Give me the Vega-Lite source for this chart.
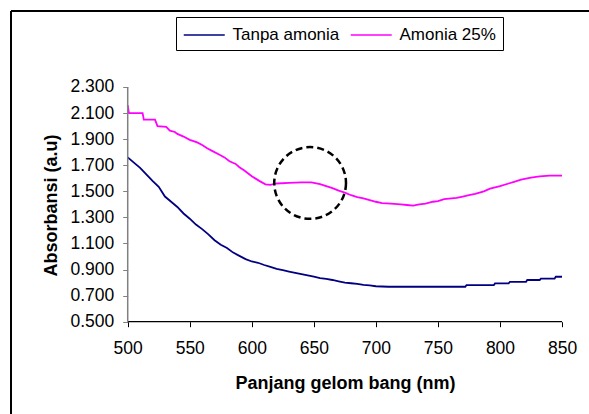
{
  "$schema": "https://vega.github.io/schema/vega-lite/v6.json",
  "width": 578,
  "height": 403,
  "autosize": {"type": "none"},
  "padding": {"left": 11, "top": 11, "right": 0, "bottom": 0},
  "background": "white",
  "config": {
    "view": {"stroke": null},
    "font": "Liberation Sans",
    "axis": {"labelFont": "Liberation Sans", "titleFont": "Liberation Sans", "labelColor": "black", "titleColor": "black", "grid": false, "domain": false}
  },
  "datasets": {
    "spectra": [
      {"wl": 500, "abs": 1.76, "series": "Tanpa amonia"},
      {"wl": 505, "abs": 1.72, "series": "Tanpa amonia"},
      {"wl": 510, "abs": 1.68, "series": "Tanpa amonia"},
      {"wl": 515, "abs": 1.63, "series": "Tanpa amonia"},
      {"wl": 520, "abs": 1.58, "series": "Tanpa amonia"},
      {"wl": 525, "abs": 1.535, "series": "Tanpa amonia"},
      {"wl": 530, "abs": 1.46, "series": "Tanpa amonia"},
      {"wl": 535, "abs": 1.42, "series": "Tanpa amonia"},
      {"wl": 540, "abs": 1.38, "series": "Tanpa amonia"},
      {"wl": 545, "abs": 1.33, "series": "Tanpa amonia"},
      {"wl": 550, "abs": 1.29, "series": "Tanpa amonia"},
      {"wl": 555, "abs": 1.245, "series": "Tanpa amonia"},
      {"wl": 560, "abs": 1.21, "series": "Tanpa amonia"},
      {"wl": 565, "abs": 1.17, "series": "Tanpa amonia"},
      {"wl": 570, "abs": 1.125, "series": "Tanpa amonia"},
      {"wl": 575, "abs": 1.09, "series": "Tanpa amonia"},
      {"wl": 580, "abs": 1.065, "series": "Tanpa amonia"},
      {"wl": 585, "abs": 1.03, "series": "Tanpa amonia"},
      {"wl": 590, "abs": 1.005, "series": "Tanpa amonia"},
      {"wl": 595, "abs": 0.98, "series": "Tanpa amonia"},
      {"wl": 600, "abs": 0.962, "series": "Tanpa amonia"},
      {"wl": 605, "abs": 0.952, "series": "Tanpa amonia"},
      {"wl": 610, "abs": 0.935, "series": "Tanpa amonia"},
      {"wl": 615, "abs": 0.92, "series": "Tanpa amonia"},
      {"wl": 620, "abs": 0.905, "series": "Tanpa amonia"},
      {"wl": 625, "abs": 0.895, "series": "Tanpa amonia"},
      {"wl": 630, "abs": 0.885, "series": "Tanpa amonia"},
      {"wl": 635, "abs": 0.875, "series": "Tanpa amonia"},
      {"wl": 640, "abs": 0.865, "series": "Tanpa amonia"},
      {"wl": 645, "abs": 0.855, "series": "Tanpa amonia"},
      {"wl": 650, "abs": 0.845, "series": "Tanpa amonia"},
      {"wl": 655, "abs": 0.835, "series": "Tanpa amonia"},
      {"wl": 660, "abs": 0.828, "series": "Tanpa amonia"},
      {"wl": 665, "abs": 0.82, "series": "Tanpa amonia"},
      {"wl": 670, "abs": 0.81, "series": "Tanpa amonia"},
      {"wl": 675, "abs": 0.8, "series": "Tanpa amonia"},
      {"wl": 680, "abs": 0.795, "series": "Tanpa amonia"},
      {"wl": 685, "abs": 0.79, "series": "Tanpa amonia"},
      {"wl": 690, "abs": 0.782, "series": "Tanpa amonia"},
      {"wl": 695, "abs": 0.778, "series": "Tanpa amonia"},
      {"wl": 700, "abs": 0.772, "series": "Tanpa amonia"},
      {"wl": 710, "abs": 0.768, "series": "Tanpa amonia"},
      {"wl": 740, "abs": 0.768, "series": "Tanpa amonia"},
      {"wl": 772, "abs": 0.768, "series": "Tanpa amonia"},
      {"wl": 773, "abs": 0.78, "series": "Tanpa amonia"},
      {"wl": 795, "abs": 0.78, "series": "Tanpa amonia"},
      {"wl": 796, "abs": 0.794, "series": "Tanpa amonia"},
      {"wl": 807, "abs": 0.794, "series": "Tanpa amonia"},
      {"wl": 808, "abs": 0.806, "series": "Tanpa amonia"},
      {"wl": 821, "abs": 0.806, "series": "Tanpa amonia"},
      {"wl": 822, "abs": 0.82, "series": "Tanpa amonia"},
      {"wl": 832, "abs": 0.82, "series": "Tanpa amonia"},
      {"wl": 833, "abs": 0.83, "series": "Tanpa amonia"},
      {"wl": 844, "abs": 0.83, "series": "Tanpa amonia"},
      {"wl": 845, "abs": 0.845, "series": "Tanpa amonia"},
      {"wl": 850, "abs": 0.845, "series": "Tanpa amonia"},
      {"wl": 500, "abs": 2.16, "series": "Amonia 25%"},
      {"wl": 501, "abs": 2.1, "series": "Amonia 25%"},
      {"wl": 512, "abs": 2.1, "series": "Amonia 25%"},
      {"wl": 513, "abs": 2.05, "series": "Amonia 25%"},
      {"wl": 522, "abs": 2.05, "series": "Amonia 25%"},
      {"wl": 524, "abs": 2.0, "series": "Amonia 25%"},
      {"wl": 531, "abs": 1.995, "series": "Amonia 25%"},
      {"wl": 534, "abs": 1.965, "series": "Amonia 25%"},
      {"wl": 538, "abs": 1.955, "series": "Amonia 25%"},
      {"wl": 540, "abs": 1.94, "series": "Amonia 25%"},
      {"wl": 545, "abs": 1.92, "series": "Amonia 25%"},
      {"wl": 550, "abs": 1.895, "series": "Amonia 25%"},
      {"wl": 556, "abs": 1.875, "series": "Amonia 25%"},
      {"wl": 560, "abs": 1.855, "series": "Amonia 25%"},
      {"wl": 564, "abs": 1.83, "series": "Amonia 25%"},
      {"wl": 568, "abs": 1.81, "series": "Amonia 25%"},
      {"wl": 574, "abs": 1.78, "series": "Amonia 25%"},
      {"wl": 578, "abs": 1.76, "series": "Amonia 25%"},
      {"wl": 582, "abs": 1.73, "series": "Amonia 25%"},
      {"wl": 587, "abs": 1.71, "series": "Amonia 25%"},
      {"wl": 590, "abs": 1.685, "series": "Amonia 25%"},
      {"wl": 594, "abs": 1.66, "series": "Amonia 25%"},
      {"wl": 600, "abs": 1.615, "series": "Amonia 25%"},
      {"wl": 606, "abs": 1.58, "series": "Amonia 25%"},
      {"wl": 611, "abs": 1.553, "series": "Amonia 25%"},
      {"wl": 615, "abs": 1.55, "series": "Amonia 25%"},
      {"wl": 620, "abs": 1.56, "series": "Amonia 25%"},
      {"wl": 630, "abs": 1.565, "series": "Amonia 25%"},
      {"wl": 640, "abs": 1.568, "series": "Amonia 25%"},
      {"wl": 648, "abs": 1.568, "series": "Amonia 25%"},
      {"wl": 655, "abs": 1.555, "series": "Amonia 25%"},
      {"wl": 660, "abs": 1.54, "series": "Amonia 25%"},
      {"wl": 665, "abs": 1.525, "series": "Amonia 25%"},
      {"wl": 670, "abs": 1.505, "series": "Amonia 25%"},
      {"wl": 675, "abs": 1.49, "series": "Amonia 25%"},
      {"wl": 680, "abs": 1.47, "series": "Amonia 25%"},
      {"wl": 685, "abs": 1.455, "series": "Amonia 25%"},
      {"wl": 690, "abs": 1.445, "series": "Amonia 25%"},
      {"wl": 695, "abs": 1.432, "series": "Amonia 25%"},
      {"wl": 700, "abs": 1.42, "series": "Amonia 25%"},
      {"wl": 705, "abs": 1.41, "series": "Amonia 25%"},
      {"wl": 712, "abs": 1.405, "series": "Amonia 25%"},
      {"wl": 720, "abs": 1.4, "series": "Amonia 25%"},
      {"wl": 725, "abs": 1.395, "series": "Amonia 25%"},
      {"wl": 730, "abs": 1.39, "series": "Amonia 25%"},
      {"wl": 735, "abs": 1.4, "series": "Amonia 25%"},
      {"wl": 740, "abs": 1.405, "series": "Amonia 25%"},
      {"wl": 746, "abs": 1.42, "series": "Amonia 25%"},
      {"wl": 750, "abs": 1.425, "series": "Amonia 25%"},
      {"wl": 755, "abs": 1.44, "series": "Amonia 25%"},
      {"wl": 765, "abs": 1.45, "series": "Amonia 25%"},
      {"wl": 770, "abs": 1.46, "series": "Amonia 25%"},
      {"wl": 775, "abs": 1.47, "series": "Amonia 25%"},
      {"wl": 780, "abs": 1.48, "series": "Amonia 25%"},
      {"wl": 787, "abs": 1.5, "series": "Amonia 25%"},
      {"wl": 792, "abs": 1.52, "series": "Amonia 25%"},
      {"wl": 796, "abs": 1.53, "series": "Amonia 25%"},
      {"wl": 800, "abs": 1.54, "series": "Amonia 25%"},
      {"wl": 807, "abs": 1.56, "series": "Amonia 25%"},
      {"wl": 812, "abs": 1.575, "series": "Amonia 25%"},
      {"wl": 817, "abs": 1.59, "series": "Amonia 25%"},
      {"wl": 825, "abs": 1.605, "series": "Amonia 25%"},
      {"wl": 832, "abs": 1.615, "series": "Amonia 25%"},
      {"wl": 840, "abs": 1.62, "series": "Amonia 25%"},
      {"wl": 850, "abs": 1.62, "series": "Amonia 25%"}
    ],
    "circle": [{"wl": 647, "abs": 1.564}],
    "xaxis": [{"x1": 500, "x2": 850, "y": 0.5}],
    "yaxis": [{"x": 500, "y1": 0.5, "y2": 2.3}]
  },
  "layer": [
    {
      "data": {"name": "spectra"},
      "mark": {"type": "rule", "color": "black", "strokeWidth": 1.5},
      "encoding": {"y": {"datum": 2.8828, "type": "quantitative", "scale": {"domain": [-0.2077, 2.8828], "nice": false, "zero": false}}}
    },
    {
      "data": {"name": "spectra"},
      "mark": {"type": "rule", "color": "black", "strokeWidth": 1.5},
      "encoding": {"x": {"datum": 405.95, "type": "quantitative", "scale": {"domain": [405.95, 871.74], "nice": false, "zero": false}}}
    },
    {
      "data": {"name": "spectra"},
      "mark": {"type": "line", "strokeWidth": 1.8, "interpolate": "linear"},
      "encoding": {
        "x": {
          "field": "wl", "type": "quantitative",
          "scale": {"domain": [405.95, 871.74], "nice": false, "zero": false},
          "axis": {
            "values": [500, 550, 600, 650, 700, 750, 800, 850], "format": "d",
            "offset": -92.3, "tickColor": "black", "tickSize": 5, "tickWidth": 1,
            "labelFontSize": 17.5, "labelPadding": 13,
            "title": "Panjang gelom bang (nm)", "titleFontSize": 18, "titleFontWeight": "bold",
            "titleX": 334, "titleY": 66.6, "titleBaseline": "alphabetic", "titleAlign": "center", "titleAnchor": null
          }
        },
        "y": {
          "field": "abs", "type": "quantitative",
          "scale": {"domain": [-0.2077, 2.8828], "nice": false, "zero": false},
          "axis": {
            "values": [0.5, 0.7, 0.9, 1.1, 1.3, 1.5, 1.7, 1.9, 2.1, 2.3], "format": ".3f",
            "offset": -116.7, "tickColor": "#808080", "tickSize": 5, "tickWidth": 1,
            "labelFontSize": 17.5, "labelPadding": 9,
            "title": "Absorbansi (a.u)", "titleFontSize": 18, "titleFontWeight": "bold",
            "titleAngle": 270, "titleX": -71.2, "titleY": 194, "titleBaseline": "alphabetic", "titleAlign": "center", "titleAnchor": null
          }
        },
        "color": {
          "field": "series", "type": "nominal",
          "scale": {"domain": ["Tanpa amonia", "Amonia 25%"], "range": ["#000080", "#FF00FF"]},
          "legend": {
            "title": null, "orient": "none", "direction": "horizontal",
            "legendX": 165, "legendY": 6,
            "symbolType": "M-1,0H3", "symbolSize": 420, "symbolStrokeWidth": 1.5,
            "labelFontSize": 17, "labelFont": "Liberation Sans", "labelColor": "black",
            "labelOffset": 27.5, "columnPadding": 7, "padding": 7,
            "strokeColor": "black", "fillColor": "white", "cornerRadius": 0
          }
        }
      }
    },
    {
      "data": {"name": "xaxis"},
      "mark": {"type": "rule", "color": "black", "strokeWidth": 1.2},
      "encoding": {
        "x": {"field": "x1", "type": "quantitative"},
        "x2": {"field": "x2"},
        "y": {"field": "y", "type": "quantitative"}
      }
    },
    {
      "data": {"name": "yaxis"},
      "mark": {"type": "rule", "color": "#808080", "strokeWidth": 1.5},
      "encoding": {
        "x": {"field": "x", "type": "quantitative"},
        "y": {"field": "y1", "type": "quantitative"},
        "y2": {"field": "y2"}
      }
    },
    {
      "data": {"name": "circle"},
      "mark": {"type": "point", "shape": "circle", "filled": false, "stroke": "black", "strokeWidth": 2.5, "strokeDash": [7, 4], "size": 5150, "opacity": 1},
      "encoding": {
        "x": {"field": "wl", "type": "quantitative"},
        "y": {"field": "abs", "type": "quantitative"}
      }
    }
  ]
}
